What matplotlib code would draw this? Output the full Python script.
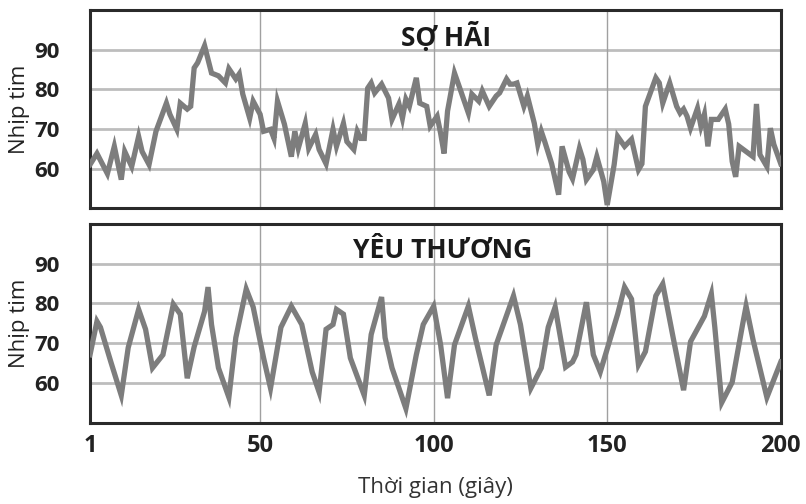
import matplotlib.pyplot as plt

plt.rcParams['font.family'] = ['Open Sans', 'DejaVu Sans']

# SỢ HÃI (fear) - heart rate vs time
fear_t = [1, 3, 6, 8, 10, 11, 13, 15, 16, 18, 20, 23, 24, 26, 27, 29, 30, 31, 32, 34,
          36, 38, 40, 41, 43, 44, 45, 47, 48, 50, 51, 53, 54, 55, 57, 59, 60, 61, 63, 64,
          66, 67, 69, 71, 72, 74, 75, 77, 78, 79, 80, 81, 82, 83, 85, 87, 88, 90, 91, 92,
          93, 95, 96, 98, 99, 101, 102, 103, 104, 106, 108, 110, 111, 113, 114, 116, 118, 119, 121, 122,
          123, 124, 126, 127, 129, 130, 131, 132, 134, 136, 137, 139, 140, 142, 143, 144, 146, 147, 149, 150,
          152, 153, 155, 157, 159, 160, 161, 164, 165, 166, 167, 168, 170, 171, 172, 173, 174, 176, 177, 178,
          179, 180, 182, 184, 185, 186, 187, 188, 190, 192, 193, 194, 196, 197, 198, 200]
fear_hr = [61.0, 63.8, 58.7, 65.6, 57.2, 64.3, 60.5, 68.1, 64.3, 61.0, 69.4, 76.5, 73.7, 69.9, 76.5, 75.0, 75.7, 85.4, 86.7, 91.0,
           84.1, 83.4, 81.6, 85.2, 82.6, 83.9, 78.8, 72.7, 77.0, 73.7, 69.4, 69.9, 67.6, 77.0, 71.2, 63.0, 69.4, 65.1, 71.4, 65.1,
           68.6, 64.8, 61.2, 69.9, 65.6, 71.4, 66.8, 64.8, 69.4, 67.6, 67.6, 80.3, 81.6, 79.1, 81.3, 77.8, 72.4, 76.3, 72.7, 77.5,
           75.7, 82.9, 76.5, 75.7, 70.7, 73.2, 68.9, 63.8, 74.5, 84.1, 79.1, 74.0, 78.8, 77.0, 79.6, 75.7, 78.3, 79.1, 82.6, 81.3,
           81.3, 81.6, 75.7, 78.3, 71.4, 66.1, 69.4, 66.8, 61.2, 53.4, 65.6, 59.2, 57.4, 65.1, 62.3, 57.2, 59.7, 63.0, 56.7, 50.8,
           61.0, 68.1, 65.6, 67.4, 59.7, 61.2, 75.7, 82.9, 81.6, 76.5, 79.1, 81.6, 75.7, 74.0, 75.0, 73.2, 70.2, 75.2, 70.7, 73.7,
           65.6, 72.4, 72.4, 75.0, 71.2, 61.8, 57.9, 65.6, 64.3, 63.0, 76.3, 63.5, 60.5, 70.2, 66.1, 61.2]

# YÊU THƯƠNG (love) - heart rate vs time
love_t = [1, 3, 4, 7, 10, 12, 15, 17, 19, 22, 25, 27, 29, 31, 34, 35, 36, 38, 41, 43,
          46, 48, 51, 53, 56, 59, 62, 65, 67, 69, 71, 72, 74, 76, 80, 82, 85, 86, 88, 92,
          95, 97, 100, 102, 104, 106, 110, 112, 116, 118, 123, 125, 128, 131, 133, 135, 138, 140, 141, 144,
          146, 148, 153, 155, 157, 159, 161, 164, 166, 169, 172, 174, 178, 180, 181, 183, 186, 189, 190, 192,
          196, 200]
love_hr = [67.1, 75.5, 74.0, 65.3, 56.9, 68.9, 78.5, 73.5, 63.8, 67.1, 79.8, 77.3, 61.2, 69.1, 78.0, 84.1, 74.7, 63.8, 56.4, 71.4,
           83.6, 79.1, 66.3, 58.7, 74.0, 79.3, 74.7, 62.8, 57.7, 73.5, 74.7, 78.5, 77.3, 66.3, 56.9, 72.2, 81.6, 71.4, 63.8, 53.6,
           67.1, 74.7, 79.3, 69.6, 56.2, 69.6, 79.3, 71.4, 56.9, 69.6, 81.9, 74.7, 58.7, 63.8, 74.0, 79.1, 64.0, 65.3, 67.1, 80.3,
           67.1, 62.8, 77.3, 84.1, 81.1, 64.6, 67.9, 81.9, 84.9, 71.4, 58.2, 70.4, 76.8, 82.4, 74.0, 55.1, 60.2, 74.7, 79.3, 70.9,
           56.4, 65.3]

xticks = [1, 50, 100, 150, 200]
yticks = [60, 70, 80, 90]

fig = plt.figure(figsize=(8.06, 5.04), dpi=100)
ax1 = fig.add_axes([0.1117, 0.587, 0.857, 0.393])
ax2 = fig.add_axes([0.1117, 0.161, 0.857, 0.395])

panels = [(ax1, fear_t, fear_hr, 'SỢ HÃI', 0.515, 0.865), (ax2, love_t, love_hr, 'YÊU THƯƠNG', 0.51, 0.865)]
for ax, t, hr, title, tx, ty in panels:
    for y in yticks:
        ax.axhline(y, color='#bdbdbd', lw=2.0, zorder=1)
    for x in [50, 100, 150]:
        ax.axvline(x, color='#a0a0a0', lw=1.0, zorder=1)
    ax.plot(t, hr, color='#7d7d7d', lw=3.8, solid_joinstyle='miter', zorder=3)
    ax.set_xlim(1, 200)
    ax.set_ylim(50, 100)
    ax.set_yticks(yticks)
    ax.set_yticklabels([str(v) for v in yticks], fontsize=16, fontweight='bold', color='#222222')
    ax.tick_params(axis='y', length=0, pad=22)
    ax.set_ylabel('Nhịp tim', fontsize=16, color='#222222', labelpad=3)
    ax.text(tx, ty, title, transform=ax.transAxes, ha='center', va='center',
            fontsize=19, fontweight='bold', color='#1a1a1a', zorder=4)
    for sp in ax.spines.values():
        sp.set_linewidth(2.2)
        sp.set_color('#2a2a2a')

ax1.set_xticks([])
ax2.set_xticks(xticks)
ax2.set_xticklabels([str(v) for v in xticks], fontsize=17, fontweight='bold', color='#222222')
ax2.tick_params(axis='x', length=0, pad=8)
ax2.set_xlabel('Thời gian (giây)', fontsize=16, color='#333333', labelpad=14)

fig.savefig('out.png', dpi=100)
